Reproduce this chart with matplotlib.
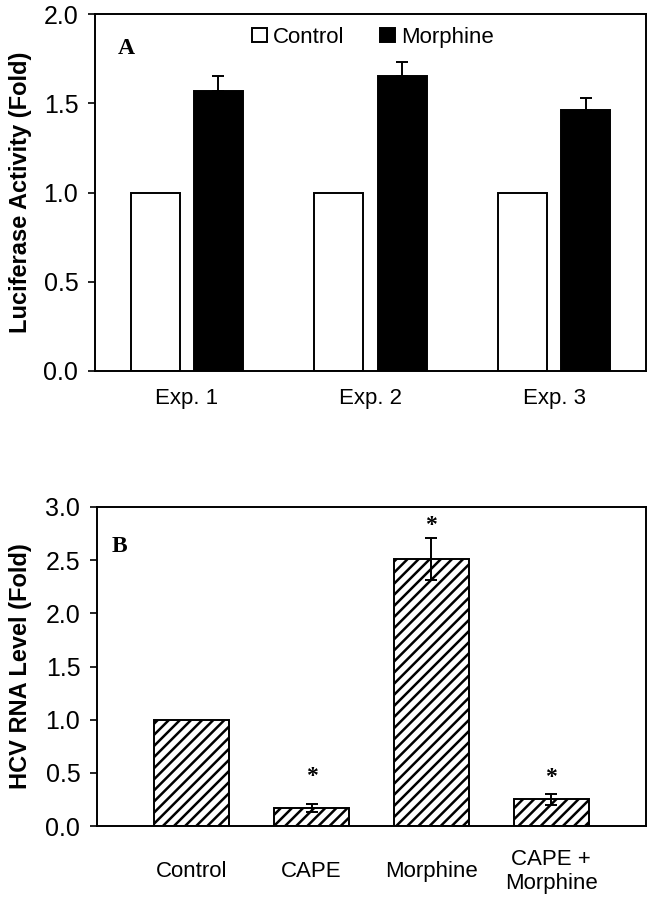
import matplotlib
matplotlib.use("Agg")
import matplotlib.pyplot as plt
import numpy as np

plt.rcParams['font.family'] = ['Liberation Sans', 'DejaVu Sans']
plt.rcParams['hatch.linewidth'] = 1.8

# ---- Panel A data ----
exp_labels = ["Exp. 1", "Exp. 2", "Exp. 3"]
control_vals = [1.0, 1.0, 1.0]
morphine_vals = [1.57, 1.65, 1.46]
morphine_err = [0.08, 0.08, 0.07]
yticks_a = [0.0, 0.5, 1.0, 1.5, 2.0]

# ---- Panel B data ----
b_labels = ["Control", "CAPE", "Morphine", "CAPE +\nMorphine"]
b_vals = [1.0, 0.17, 2.51, 0.25]
b_err = [0.0, 0.035, 0.20, 0.055]
b_star_y = [None, 0.47, 2.83, 0.46]
yticks_b = [0.0, 0.5, 1.0, 1.5, 2.0, 2.5, 3.0]

W, H = 648, 899
fig = plt.figure(figsize=(W / 100, H / 100), dpi=100)

axA = fig.add_axes([95 / W, 1 - 371 / H, 551 / W, (371 - 14) / H])
axB = fig.add_axes([97 / W, 1 - 826 / H, 549 / W, (826 - 507) / H])

# ---- Panel A ----
x = np.arange(len(exp_labels))
bw = 0.267
off = 0.172
axA.bar(x - off, control_vals, bw, color="white", edgecolor="black",
        linewidth=1.4, label="Control", zorder=2)
axA.bar(x + off, morphine_vals, bw, color="black", edgecolor="black",
        linewidth=1.4, label="Morphine", zorder=2)
axA.errorbar(x + off, morphine_vals,
             yerr=[np.zeros(len(morphine_err)), morphine_err],
             fmt="none", ecolor="black", elinewidth=1.4, capsize=4,
             capthick=1.4, zorder=3)
axA.set_xlim(-0.5, 2.5)
axA.set_ylim(0, 2.0)
axA.set_yticks(yticks_a)
axA.set_yticklabels([f"{v:.1f}" for v in yticks_a])
axA.set_xticks(x)
axA.set_xticklabels(exp_labels)
axA.tick_params(axis="y", direction="out", length=5, width=1.2, pad=7,
                labelsize=18)
axA.tick_params(axis="x", length=0, pad=12, labelsize=16)
axA.set_ylabel("Luciferase Activity (Fold)", fontsize=17, fontweight="bold")
axA.yaxis.set_label_coords((32 - 95) / 551, 0.5)
for s in axA.spines.values():
    s.set_linewidth(1.4)
axA.text(0.042, 0.888, "A", transform=axA.transAxes, fontsize=17,
         fontweight="bold", family=["Liberation Serif", "DejaVu Serif"],
         va="baseline", ha="left")
axA.legend(loc="upper center", bbox_to_anchor=(0.505, 1.02), ncol=2,
           frameon=False, fontsize=16, handlelength=0.65, handleheight=0.65,
           handletextpad=0.3, columnspacing=1.6)

# ---- Panel B ----
xb = np.arange(len(b_labels))
axB.bar(xb, b_vals, 0.63, color="white", edgecolor="black", hatch="///",
        linewidth=1.4, zorder=2)
axB.errorbar(xb[1:], b_vals[1:], yerr=b_err[1:], fmt="none", ecolor="black",
             elinewidth=1.4, capsize=4, capthick=1.4, zorder=3)
for xi, sy in zip(xb, b_star_y):
    if sy is not None:
        axB.text(xi, sy, "*", ha="center", va="center", fontsize=17,
                 fontweight="bold", family=["Liberation Serif", "DejaVu Serif"])
axB.set_xlim(-0.79, 3.79)
axB.set_ylim(0, 3.0)
axB.set_yticks(yticks_b)
axB.set_yticklabels([f"{v:.1f}" for v in yticks_b])
axB.set_xticks(xb)
axB.set_xticklabels(b_labels, va="center", linespacing=1.2)
axB.tick_params(axis="y", direction="out", length=5, width=1.2, pad=7,
                labelsize=18)
axB.tick_params(axis="x", length=0, pad=33, labelsize=16)
axB.set_ylabel("HCV RNA Level (Fold)", fontsize=17, fontweight="bold")
axB.yaxis.set_label_coords((32 - 97) / 549, 0.5)
for s in axB.spines.values():
    s.set_linewidth(1.4)
axB.text(0.027, 0.859, "B", transform=axB.transAxes, fontsize=17,
         fontweight="bold", family=["Liberation Serif", "DejaVu Serif"],
         va="baseline", ha="left")

fig.savefig("out.png", dpi=100)
